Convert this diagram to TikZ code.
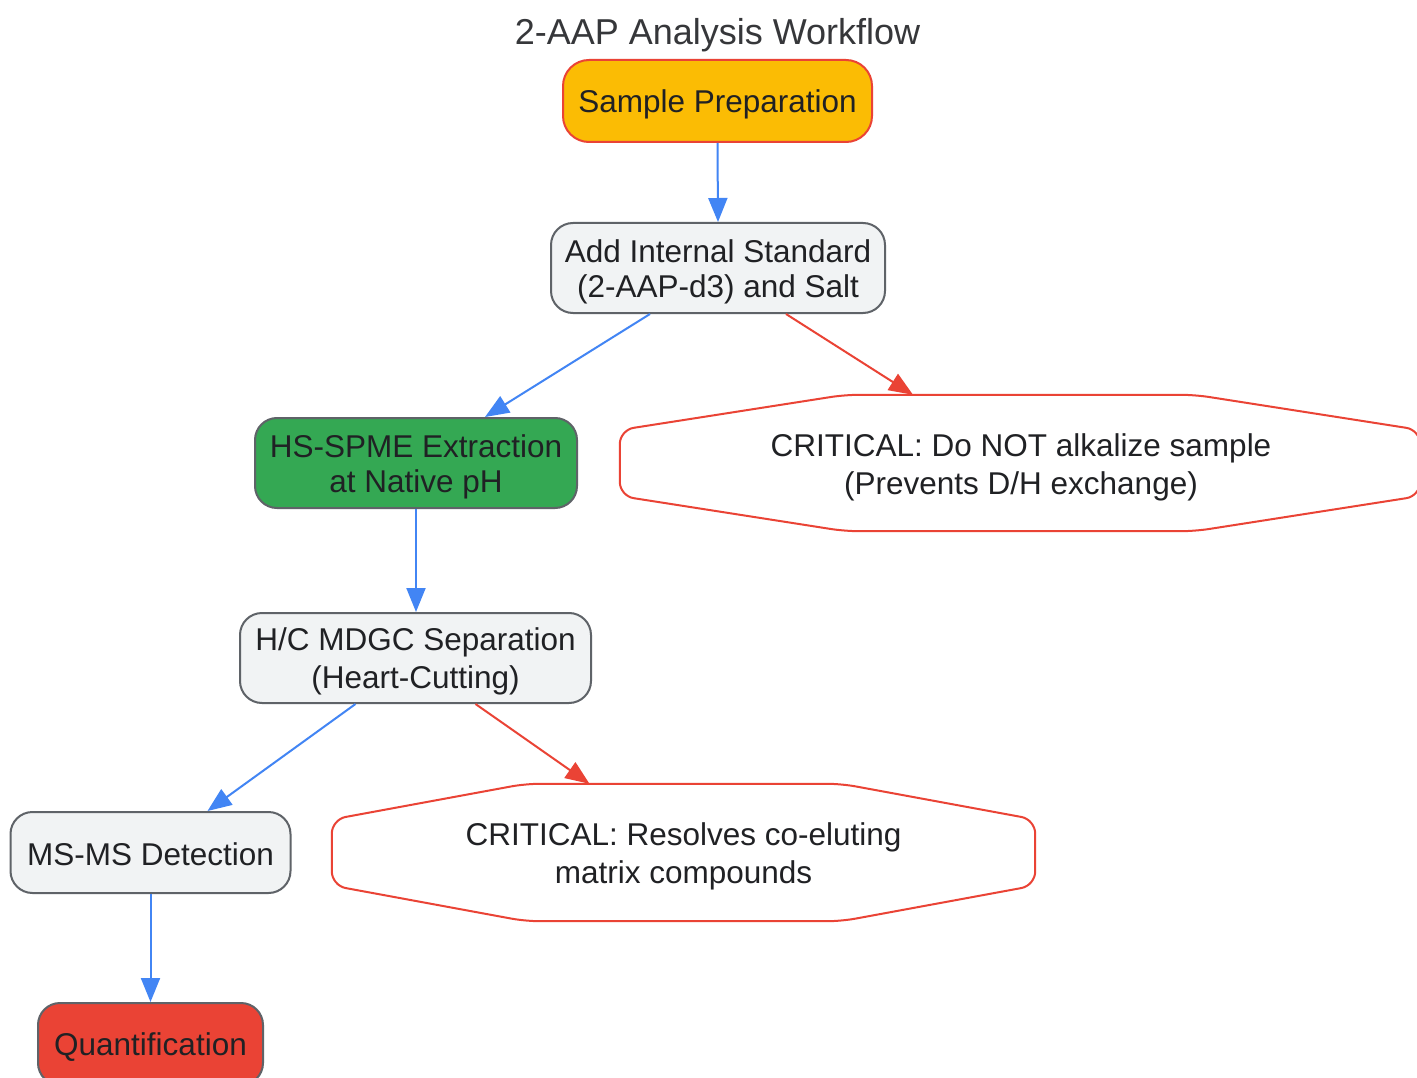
\documentclass[tikz,border=0pt]{standalone}
\usepackage{fontspec}
\setmainfont{Liberation Sans}
\usetikzlibrary{arrows.meta}
\definecolor{gblue}{HTML}{4285F4}
\definecolor{gred}{HTML}{EA4335}
\definecolor{gyellow}{HTML}{FBBC04}
\definecolor{ggreen}{HTML}{34A853}
\definecolor{glight}{HTML}{F1F3F4}
\definecolor{gborder}{HTML}{5F6368}
\definecolor{gtext}{HTML}{202124}
\newcommand\ls{\rule[-0.15em]{0pt}{1.1em}}
\tikzset{
  every node/.style={font=\fontsize{31.5pt}{35pt}\selectfont, text=gtext, align=center},
  box/.style={draw=gborder, line width=2pt, rounded corners=22pt, inner sep=0pt},
  critlabel/.style={inner sep=0pt},
  crit/.style={draw=gred, line width=2pt, fill=white, rounded corners=14pt},
  flow/.style={draw=gblue, line width=2pt, -{Triangle[length=24pt,width=19pt]}},
  warn/.style={draw=gred, line width=2pt, -{Triangle[length=24pt,width=19pt]}}
}
\begin{document}
\begin{tikzpicture}[x=1pt,y=-1pt]
\useasboundingbox (0,0) rectangle (1417,1078);
\clip (0,0) rectangle (1417,1078);
\fill[white] (0,0) rectangle (1417,1078);
\node[font=\fontsize{36pt}{40pt}\selectfont, text=gtext!90] (title) at (717.5,31) {\ls 2-AAP Analysis Workflow};
\node[box, fill=gyellow, draw=gred, rounded corners=26pt, minimum width=309pt, minimum height=82pt] (sp) at (717.5,101) {\ls Sample Preparation};
\node[box, fill=glight, minimum width=334pt, minimum height=90pt] (add) at (718,268) {\ls Add Internal Standard\\\ls (2-AAP-d3) and Salt};
\node[box, fill=ggreen, minimum width=322pt, minimum height=90pt] (hs) at (416,463) {\ls HS-SPME Extraction\\\ls at Native pH};
\node[box, fill=glight, minimum width=351pt, minimum height=90pt] (hc) at (415.5,658) {\ls H/C MDGC Separation\\\ls (Heart-Cutting)};
\node[box, fill=glight, minimum width=280pt, minimum height=81pt] (ms) at (150.5,852.5) {\ls MS-MS Detection};
\node[box, fill=gred, minimum width=225pt, minimum height=82pt] (q) at (150.5,1044) {\ls Quantification};
% critical 1
\node[critlabel, minimum width=800pt, minimum height=136pt] (c1) at (1020,463) {};
\draw[crit] ([xshift=-175pt]c1.north) -- ([yshift=33pt]c1.west) -- ([yshift=-33pt]c1.west) -- ([xshift=-175pt]c1.south) -- ([xshift=175pt]c1.south) -- ([yshift=-33pt]c1.east) -- ([yshift=33pt]c1.east) -- ([xshift=175pt]c1.north) -- cycle;
\node (c1t) at (1021,464) {\ls CRITICAL: Do NOT alkalize sample\\\ls (Prevents D/H exchange)};
% critical 2
\node[critlabel, minimum width=703pt, minimum height=137pt] (c2) at (683.5,852.5) {};
\draw[crit] ([xshift=-158pt]c2.north) -- ([yshift=33pt]c2.west) -- ([yshift=-33pt]c2.west) -- ([xshift=-158pt]c2.south) -- ([xshift=158pt]c2.south) -- ([yshift=-33pt]c2.east) -- ([yshift=33pt]c2.east) -- ([xshift=158pt]c2.north) -- cycle;
\node (c2t) at (683.5,853) {\ls CRITICAL: Resolves co-eluting\\\ls matrix compounds};
% connectors
\draw[flow] (sp.south) -- (add.north);
\draw[flow] ([xshift=-68pt]add.south) -- ([xshift=69pt]hs.north);
\draw[warn] ([xshift=68pt]add.south) -- ([xshift=-107pt]c1.north);
\draw[flow] (hs.south) -- ([xshift=0.5pt]hc.north);
\draw[flow] ([xshift=-60pt]hc.south) -- ([xshift=57pt]ms.north);
\draw[warn] ([xshift=60pt]hc.south) -- ([xshift=-94pt]c2.north);
\draw[flow] (ms.south) -- (q.north);
\end{tikzpicture}
\end{document}
